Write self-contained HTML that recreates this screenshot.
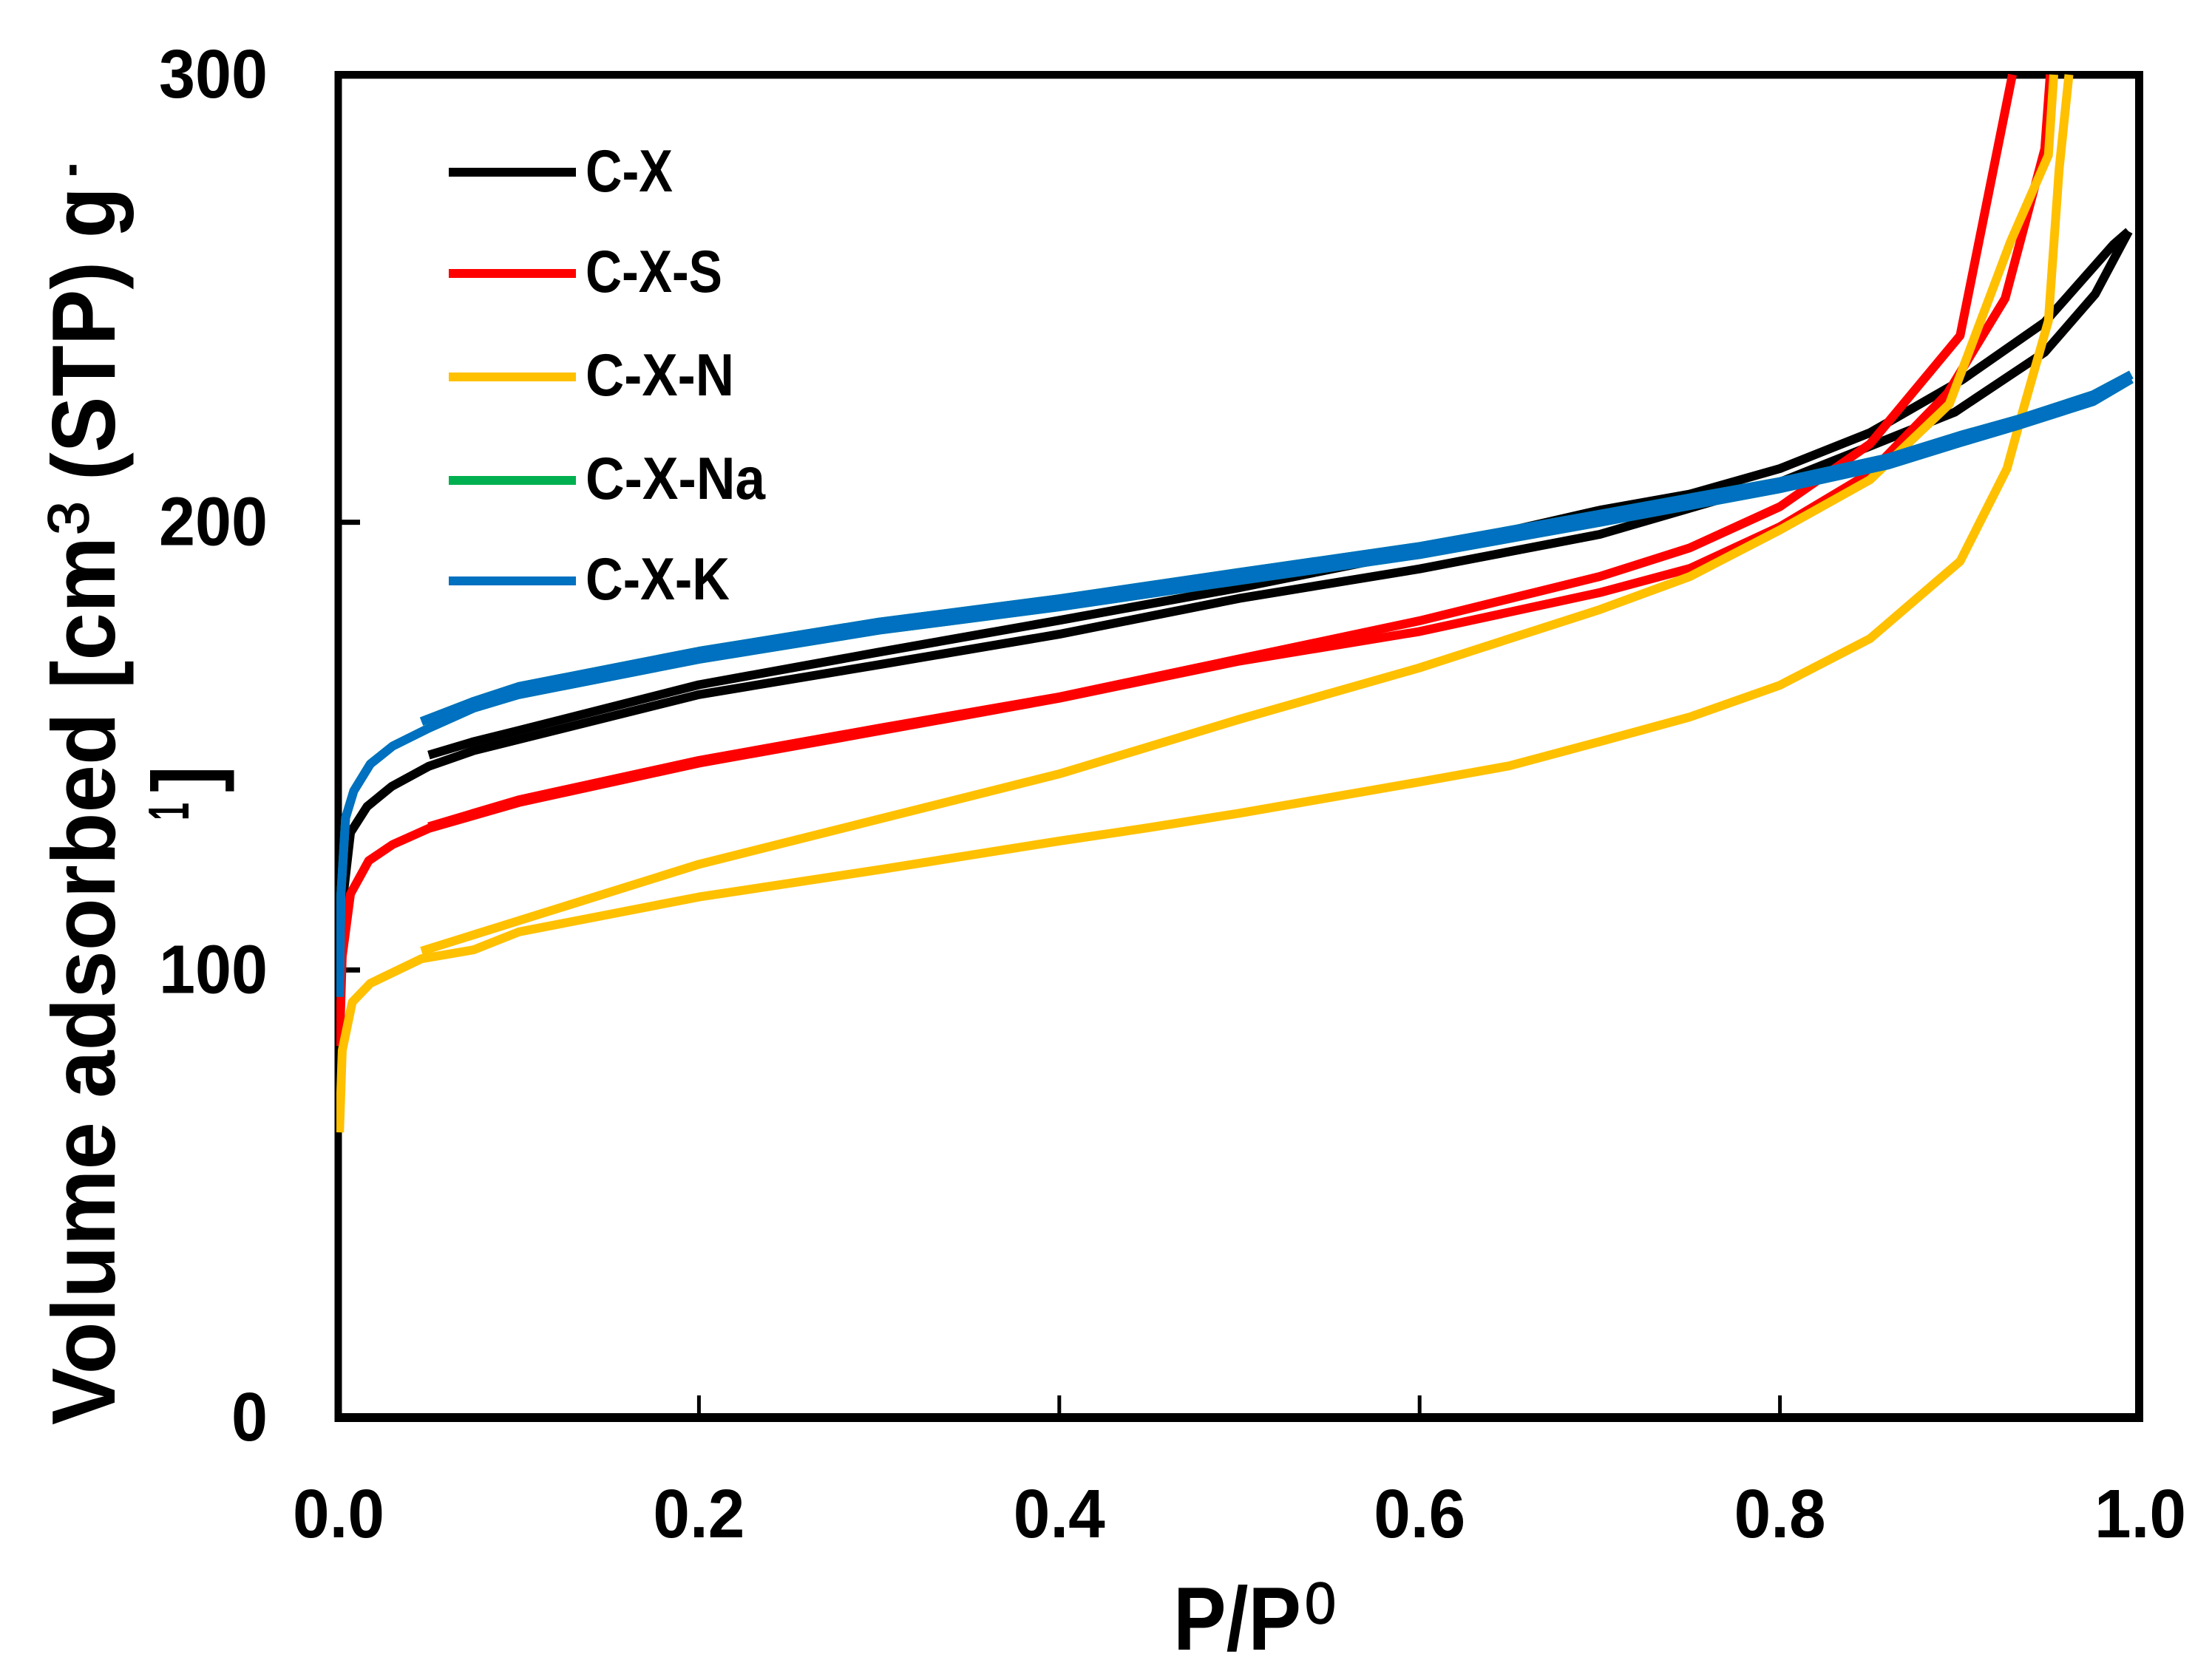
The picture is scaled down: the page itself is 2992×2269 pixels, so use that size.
<!DOCTYPE html>
<html lang="en">
<head>
<meta charset="utf-8">
<title>Nitrogen adsorption isotherms</title>
<style>
html,body{margin:0;padding:0;background:#fff;}
svg{display:block;}
text{font-family:"Liberation Sans",sans-serif;fill:#000;}
</style>
</head>
<body>
<svg id="chart" xmlns="http://www.w3.org/2000/svg" width="2992" height="2269" viewBox="0 0 2992 2269">
  <rect x="0" y="0" width="2992" height="2269" fill="#ffffff"/>
  <defs>
    <clipPath id="plot-clip"><rect x="455" y="98" width="2433" height="1826"/></clipPath>
  </defs>

  <g>
    <rect x="452.5" y="96" width="10" height="1828" fill="#000"/>
    <rect x="2888" y="96" width="11" height="1828" fill="#000"/>
    <rect x="452.5" y="96" width="2446.5" height="10.5" fill="#000"/>
    <rect x="452.5" y="1912" width="2446.5" height="12" fill="#000"/>
  </g>
  <g id="ticks"></g>
  <g id="tick-labels" font-weight="700"></g>
  <g id="series" clip-path="url(#plot-clip)"></g>

  <g font-weight="700" font-size="81">
    <g>
      <line x1="607" x2="779" y1="233" y2="233" stroke="#000000" stroke-width="12"/>
      <text x="792" y="259" textLength="118" lengthAdjust="spacingAndGlyphs">C-X</text>
    </g>
    <g>
      <line x1="607" x2="779" y1="370" y2="370" stroke="#ff0000" stroke-width="12"/>
      <text x="792" y="395" textLength="185" lengthAdjust="spacingAndGlyphs">C-X-S</text>
    </g>
    <g>
      <line x1="607" x2="779" y1="510" y2="510" stroke="#ffc000" stroke-width="12"/>
      <text x="792" y="535" textLength="201" lengthAdjust="spacingAndGlyphs">C-X-N</text>
    </g>
    <g>
      <line x1="607" x2="779" y1="650" y2="650" stroke="#00b050" stroke-width="12"/>
      <text x="792" y="675" textLength="243" lengthAdjust="spacingAndGlyphs">C-X-Na</text>
    </g>
    <g>
      <line x1="607" x2="779" y1="786" y2="786" stroke="#0070c0" stroke-width="12"/>
      <text x="792" y="811" textLength="195" lengthAdjust="spacingAndGlyphs">C-X-K</text>
    </g>
  </g>

  <g>
    <text x="1587" y="2232" font-size="122" font-weight="700" textLength="173" lengthAdjust="spacingAndGlyphs">P/P</text>
    <text x="1765" y="2196" font-size="79" stroke="#000" stroke-width="1.5" textLength="42" lengthAdjust="spacingAndGlyphs">0</text>
  </g>

  <g font-weight="700" font-size="122">
    <text transform="translate(155 1928) rotate(-90)" textLength="1202" lengthAdjust="spacingAndGlyphs">Volume adsorbed [cm</text>
    <text transform="translate(119 724) rotate(-90)" font-size="78" font-weight="400" stroke="#000" stroke-width="1.5" textLength="46" lengthAdjust="spacingAndGlyphs">3</text>
    <text transform="translate(155 650) rotate(-90)" textLength="397" lengthAdjust="spacingAndGlyphs">(STP) g</text>
    <text transform="translate(119 239) rotate(-90)" font-size="78" textLength="18" lengthAdjust="spacingAndGlyphs">-</text>
    <text transform="translate(255 1110) rotate(-90)" font-size="78" textLength="24" lengthAdjust="spacingAndGlyphs">1</text>
    <text transform="translate(291 1072) rotate(-90)" textLength="36" lengthAdjust="spacingAndGlyphs">]</text>
  </g>
</svg>
<script>
// Axis tick labels
const xTickLabels = ["0.0", "0.2", "0.4", "0.6", "0.8", "1.0"];
const yTickLabels = ["0", "100", "200", "300"];

// C-X
const cxAdsP = [0.001, 0.003, 0.0066, 0.0158, 0.0295, 0.05, 0.075, 0.1, 0.2, 0.3, 0.4, 0.5, 0.6, 0.7, 0.8, 0.85, 0.897, 0.947, 0.975, 0.9935];
const cxAdsV = [100, 118, 130.7, 136.5, 141, 145.5, 149, 151.5, 161.5, 168.2, 175, 183, 189.6, 197.3, 209, 217, 224.6, 238, 251, 265];
const cxDesP = [0.9935, 0.985, 0.947, 0.901, 0.85, 0.8, 0.75, 0.7, 0.6, 0.5, 0.4, 0.3, 0.2, 0.1, 0.075, 0.05];
const cxDesV = [265, 262, 244.7, 231.8, 220, 212, 206.3, 202.7, 193.5, 185.4, 178.1, 171, 163.7, 153.5, 151, 148];

// C-X-S
const cxsAdsP = [0.0005, 0.002, 0.0066, 0.0167, 0.03, 0.05, 0.075, 0.1, 0.2, 0.3, 0.4, 0.5, 0.6, 0.7, 0.75, 0.8, 0.85, 0.893, 0.925, 0.947, 0.95];
const cxsAdsV = [83, 103, 117, 124.4, 128, 131.6, 134.5, 137.4, 146.2, 153.4, 160.7, 169, 175.6, 184.3, 189.7, 199, 211, 228.8, 250, 283.4, 300];
const cxsDesP = [0.929, 0.9, 0.85, 0.8, 0.75, 0.7, 0.6, 0.5, 0.4, 0.3, 0.2, 0.1, 0.075, 0.05];
const cxsDesV = [300, 241.7, 217.5, 203.5, 194.3, 187.9, 178, 169.5, 161, 154, 146.8, 138, 135, 132];

// C-X-N
const cxnAdsP = [0.0005, 0.002, 0.0076, 0.0176, 0.046, 0.075, 0.1, 0.2, 0.3, 0.4, 0.45, 0.5, 0.6, 0.65, 0.7, 0.75, 0.8, 0.85, 0.9, 0.926, 0.9336, 0.949, 0.955, 0.9604];
const cxnAdsV = [63.7, 82, 92.8, 97, 102.5, 104.5, 108.5, 116.3, 122.4, 128.8, 131.8, 135, 142, 145.6, 151, 156.5, 163.6, 174, 191.3, 212, 223.2, 245, 279, 300];
const cxnDesP = [0.952, 0.949, 0.928, 0.894, 0.85, 0.8, 0.75, 0.7, 0.65, 0.6, 0.5, 0.4, 0.3, 0.2, 0.1, 0.046];
const cxnDesV = [300, 282, 262.7, 226.4, 209.5, 198.3, 187.9, 180.5, 174, 167.5, 156, 143.8, 133.7, 123.6, 111, 104.2];

// C-X-Na (sits directly beneath C-X-K, fully hidden by it)
const cxnaAdsP = [0.0005, 0.0013, 0.0039, 0.0084, 0.0176, 0.03, 0.05, 0.075, 0.1, 0.2, 0.3, 0.4, 0.5, 0.6, 0.7, 0.8, 0.86, 0.9, 0.932, 0.974, 0.995];
const cxnaAdsV = [94, 117, 134, 140, 146, 150, 154, 158.5, 161.5, 169.4, 175.9, 181.1, 187, 192.8, 200, 207.5, 212.8, 217.8, 221.6, 227, 232];
const cxnaDesP = [0.995, 0.974, 0.932, 0.9, 0.86, 0.8, 0.7, 0.6, 0.5, 0.4, 0.3, 0.2, 0.1, 0.075, 0.046];
const cxnaDesV = [233, 228.5, 223, 219.4, 214.4, 209.1, 201.8, 194.6, 188.8, 182.9, 177.7, 171.2, 163.3, 160, 155.5];

// C-X-K
const cxkAdsP = [0.0005, 0.0013, 0.0039, 0.0084, 0.0176, 0.03, 0.05, 0.075, 0.1, 0.2, 0.3, 0.4, 0.5, 0.6, 0.7, 0.8, 0.86, 0.9, 0.932, 0.974, 0.995];
const cxkAdsV = [94, 117, 134, 140, 146, 150, 154, 158.5, 161.5, 169.4, 175.9, 181.1, 187, 192.8, 200, 207.5, 212.8, 217.8, 221.6, 227, 232];
const cxkDesP = [0.995, 0.974, 0.932, 0.9, 0.86, 0.8, 0.7, 0.6, 0.5, 0.4, 0.3, 0.2, 0.1, 0.075, 0.046];
const cxkDesV = [233, 228.5, 223, 219.4, 214.4, 209.1, 201.8, 194.6, 188.8, 182.9, 177.7, 171.2, 163.3, 160, 155.5];

const SVG_NS = "http://www.w3.org/2000/svg";
const xMin = 0, xMax = 1, yMin = 0, yMax = 300;

function xScale(p) {
  return 458 + (p - xMin) / (xMax - xMin) * 2437;
}
function yScale(v) {
  return 1918 - (v - yMin) / (yMax - yMin) * 1817;
}

function linePath(ps, vs) {
  return ps.map(function (p, i) {
    return (i ? "L" : "M") + xScale(p).toFixed(1) + " " + yScale(vs[i]).toFixed(1);
  }).join(" ");
}

const seriesLayer = document.getElementById("series");
function addBranch(name, ps, vs, color) {
  const el = document.createElementNS(SVG_NS, "path");
  
  
  el.setAttribute("d", linePath(ps, vs));
  el.setAttribute("fill", "none");
  el.setAttribute("stroke", color);
  el.setAttribute("stroke-width", "12");
  el.setAttribute("stroke-linejoin", "round");
  seriesLayer.appendChild(el);
}

addBranch("c-x-adsorption-line", cxAdsP, cxAdsV, "#000000");
addBranch("c-x-desorption-line", cxDesP, cxDesV, "#000000");
addBranch("c-x-s-adsorption-line", cxsAdsP, cxsAdsV, "#ff0000");
addBranch("c-x-s-desorption-line", cxsDesP, cxsDesV, "#ff0000");
addBranch("c-x-n-adsorption-line", cxnAdsP, cxnAdsV, "#ffc000");
addBranch("c-x-n-desorption-line", cxnDesP, cxnDesV, "#ffc000");
addBranch("c-x-na-adsorption-line", cxnaAdsP, cxnaAdsV, "#00b050");
addBranch("c-x-na-desorption-line", cxnaDesP, cxnaDesV, "#00b050");
addBranch("c-x-k-adsorption-line", cxkAdsP, cxkAdsV, "#0070c0");
addBranch("c-x-k-desorption-line", cxkDesP, cxkDesV, "#0070c0");

const tickLayer = document.getElementById("ticks");
const labelLayer = document.getElementById("tick-labels");

xTickLabels.forEach(function (label) {
  const value = parseFloat(label);
  const px = xScale(value);
  if (value > xMin && value < xMax) {
    const tick = document.createElementNS(SVG_NS, "line");
    
    
    tick.setAttribute("x1", px);
    tick.setAttribute("x2", px);
    tick.setAttribute("y1", 1888);
    tick.setAttribute("y2", 1914);
    tick.setAttribute("stroke", "#000");
    tick.setAttribute("stroke-width", "5");
    tickLayer.appendChild(tick);
  }
  const text = document.createElementNS(SVG_NS, "text");
  
  
  text.setAttribute("x", px - 62);
  text.setAttribute("y", 2080);
  text.setAttribute("font-size", "93");
  text.setAttribute("textLength", "124");
  text.setAttribute("lengthAdjust", "spacingAndGlyphs");
  text.textContent = label;
  labelLayer.appendChild(text);
});

yTickLabels.forEach(function (label) {
  const value = parseFloat(label);
  const py = yScale(value);
  if (value > yMin && value < yMax) {
    const tick = document.createElementNS(SVG_NS, "line");
    
    
    tick.setAttribute("x1", 460);
    tick.setAttribute("x2", 487);
    tick.setAttribute("y1", py);
    tick.setAttribute("y2", py);
    tick.setAttribute("stroke", "#000");
    tick.setAttribute("stroke-width", "7");
    tickLayer.appendChild(tick);
  }
  const text = document.createElementNS(SVG_NS, "text");
  const width = label.length * 49;
  
  
  text.setAttribute("x", 362 - width);
  text.setAttribute("y", py + 31);
  text.setAttribute("font-size", "93");
  text.setAttribute("textLength", width);
  text.setAttribute("lengthAdjust", "spacingAndGlyphs");
  text.textContent = label;
  labelLayer.appendChild(text);
});
</script>
</body>
</html>
